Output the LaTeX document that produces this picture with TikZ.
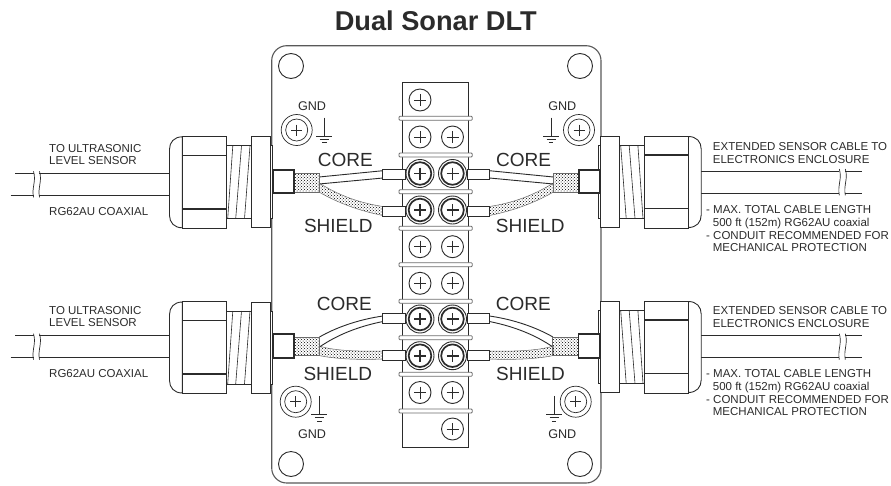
\documentclass[tikz,border=0pt]{standalone}
\usepackage{fontspec}
\setmainfont{Liberation Sans}
\usetikzlibrary{patterns}
\definecolor{InkGray}{HTML}{2b2b2b}
\definecolor{BarGray}{HTML}{6e6e6e}
\tikzset{
  % Text styles
  titletext/.style={anchor=base, inner sep=0pt, font=\fontsize{27.2}{32}\selectfont\bfseries, text=InkGray},
  cabletext/.style={anchor=north west, inner sep=0pt, align=left, text=InkGray, font=\fontsize{11.5}{12.9}\selectfont},
  wiretext/.style={anchor=base west, inner sep=0pt, text=InkGray, font=\fontsize{19}{21}\selectfont},
  gndtext/.style={anchor=base, inner sep=0pt, text=InkGray, font=\fontsize{12.6}{14}\selectfont},
  % Line styles
  outline/.style={draw=InkGray, line width=0.9pt},
  heavy/.style={draw=InkGray, line width=1.7pt},
  braid/.style={pattern=crosshatch dots, pattern color=black, draw=InkGray!70, line width=0.5pt},
  % Terminal screws
  pics/plainscrew/.style={code={
    \draw[outline, fill=white] (0,0) circle[radius=11];
    \draw[outline, line width=0.6pt] (-6,0) -- (6,0) (0,-6) -- (0,6);
  }},
  pics/boldscrew/.style={code={
    \draw[outline, fill=white] (0,0) circle[radius=14];
    \draw[heavy, fill=white] (0,0) circle[radius=11.3];
    \draw[heavy] (-6,0) -- (6,0) (0,-6) -- (0,6);
  }},
  pics/gndscrew/.style={code={
    \draw[outline, line width=0.7pt, fill=white] (0,0) circle[radius=15.5];
    \draw[outline, line width=0.7pt] (0,0) circle[radius=11];
    \draw[outline, line width=0.6pt] (-5.5,0) -- (5.5,0) (0,-5.5) -- (0,5.5);
  }},
  pics/earth/.style={code={
    \draw[outline, line width=0.7pt] (0,-18.5) -- (0,0) (-8,0) -- (8,0) (-4.5,3.3) -- (4.5,3.3) (-2.2,6.6) -- (2.2,6.6);
  }},
  % Cable gland, drawn outward from the plate
  pics/gland/.style={code={
    \draw[outline, fill=white] (-2.7,-36.5) rectangle (0,36.5);
    \draw[outline, fill=white] (0,-45.5) rectangle (18.3,45.5);
    \draw[outline, fill=white] (18.3,-36.5) rectangle (43.5,36.5);
    \draw[outline, line width=0.6pt] (20,-36.5) -- (25.5,36.5) (28.5,-36.5) -- (34.3,36.5) (37.2,-36.5) -- (42.3,36.5);
    \draw[outline, fill=white] (87.6,-45.5) .. controls (96,-45.5) and (100.5,-40) .. (100.5,-33)
      -- (100.5,33) .. controls (100.5,40) and (96,45.5) .. (87.6,45.5) -- cycle;
    \draw[outline, fill=white] (43.5,-46) rectangle (87.6,46);
    \draw[outline, line width=1.4pt] (43.5,-27) -- (87.6,-27) (43.5,26.5) -- (87.6,26.5);
  }},
  % Stripped coax, upper pair of terminals
  pics/wireupper/.style={code={
    \draw[braid] (319,183) .. controls (340,196) and (360,203) .. (383,206.5) -- (383,215.5) .. controls (360,211) and (338,203) .. (319,192) -- cycle;
    \draw[outline] (319,177) -- (383,170.7) (319,184) -- (383,178);
    \draw[braid] (293.7,173.3) rectangle (319.3,192.5);
    \draw[heavy, fill=white] (272.7,170.3) rectangle (293.7,193.3);
    \draw[outline, fill=white] (382.5,169.3) rectangle (405,179.3);
    \draw[outline, fill=white] (382.5,206) rectangle (405,216);
  }},
  % Stripped coax, lower pair of terminals
  pics/wirelower/.style={code={
    \draw[braid] (319,346) .. controls (335,351) and (360,351.5) .. (383,351) -- (383,359) .. controls (360,360) and (335,359) .. (319,355.5) -- cycle;
    \draw[outline] (319.5,337) .. controls (335,328) and (358,319.5) .. (383,316) (319.5,347) .. controls (337,335) and (358,326.5) .. (383,321.5);
    \draw[braid] (294,337.3) rectangle (319.7,355.7);
    \draw[heavy, fill=white] (272.7,334.3) rectangle (294,358.3);
    \draw[outline, fill=white] (382.5,313.3) rectangle (405,323.3);
    \draw[outline, fill=white] (382.5,350) rectangle (405,360);
  }}
}
\newcommand{\cablebreak}[3]{\draw[outline, line width=0.7pt] (#1,#2-2) .. controls (#1+3,#2+8) and (#1-2,#3-8) .. (#1,#3+2);}

\begin{document}
\begin{tikzpicture}[x=1pt, y=-1pt]
  \useasboundingbox (0,0) rectangle (891,485);

  \node[titletext] (title) at (435.8,30.7) {Dual Sonar DLT};

  % Mounting plate
  \draw[draw=black!65, line width=1.1pt, fill=white, rounded corners=15pt] (271.7,45.7) rectangle (601,483);
  \foreach \hx/\hy in {291/66, 580/66, 291/464, 580/464}
    \draw[outline] (\hx,\hy) circle[radius=12.5];

  % Cables and glands
  \foreach \ya/\yb in {173.3/195.3, 335.7/357.7} {
    \draw[outline] (39,\ya) -- (170,\ya) (39,\yb) -- (170,\yb);
    \draw[outline] (15,\ya) -- (33.5,\ya) (10.7,\yb) -- (33.5,\yb);
    \cablebreak{33.5}{\ya}{\yb}
    \cablebreak{39.5}{\ya}{\yb}
  }
  \foreach \ya/\yb in {171/193.3, 335.7/357.7} {
    \draw[outline] (701,\ya) -- (839.3,\ya) (701,\yb) -- (839.3,\yb);
    \draw[outline] (845,\ya) -- (862,\ya) (845,\yb) -- (862,\yb);
    \cablebreak{839.3}{\ya}{\yb}
    \cablebreak{845.3}{\ya}{\yb}
  }
  \pic[shift={(270,182.3)}, xscale=-1] {gland};
  \pic[shift={(270,347.5)}, xscale=-1] {gland};
  \pic[shift={(600.7,182)}] {gland};
  \pic[shift={(600.7,347)}] {gland};

  % Terminal block
  \draw[outline, fill=white] (402.7,82.3) rectangle (468.7,447.3);
  \foreach \by in {118.3, 155, 191.7, 228.3, 264.7, 301.3, 337.7, 374.3, 411}
    \draw[draw=BarGray, line width=0.8pt, fill=white, rounded corners=1pt] (399,\by-2) rectangle (472.3,\by+2);

  % Wires
  \pic {wireupper};
  \pic {wirelower};
  \pic[shift={(872.4,0)}, xscale=-1] {wireupper};
  \pic[shift={(872.4,0)}, xscale=-1] {wirelower};

  % Screws
  \pic at (420,100) {plainscrew};
  \pic at (452.5,429) {plainscrew};
  \foreach \sy in {137, 246.7, 283.3, 392.5} {
    \pic at (420,\sy) {plainscrew};
    \pic at (452.5,\sy) {plainscrew};
  }
  \foreach \sy in {173.5, 210, 319, 355.7} {
    \pic at (420,\sy) {boldscrew};
    \pic at (452.5,\sy) {boldscrew};
  }

  % Ground points
  \pic at (296.7,130) {gndscrew};
  \pic at (579,130) {gndscrew};
  \pic at (295.7,401.7) {gndscrew};
  \pic at (575.7,401.7) {gndscrew};
  \pic at (324.3,136.2) {earth};
  \pic at (551,136.2) {earth};
  \pic at (319.3,414.3) {earth};
  \pic at (554,414.3) {earth};
  \node[gndtext] (gndtl) at (312,110.7) {GND};
  \node[gndtext] (gndtr) at (562.3,110.7) {GND};
  \node[gndtext] (gndbl) at (312,438.3) {GND};
  \node[gndtext] (gndbr) at (562.3,438.3) {GND};

  % Wire labels
  \node[wiretext] (coretl) at (317.7,166.7) {CORE};
  \node[wiretext] (coretr) at (496,166.7) {CORE};
  \node[wiretext] (shieldtl) at (303.8,232.7) {SHIELD};
  \node[wiretext] (shieldtr) at (495.7,232.7) {SHIELD};
  \node[wiretext] (corebl) at (316.7,310.7) {CORE};
  \node[wiretext] (corebr) at (495.7,310.7) {CORE};
  \node[wiretext] (shieldbl) at (303.3,380.7) {SHIELD};
  \node[wiretext] (shieldbr) at (496,380.7) {SHIELD};

  % Cable labels
  \node[cabletext] (sensortop) at (49,143.8) {TO ULTRASONIC\\LEVEL SENSOR};
  \node[cabletext] (coaxtop) at (49,206.8) {RG62AU COAXIAL};
  \node[cabletext] (sensorbot) at (49,305.8) {TO ULTRASONIC\\LEVEL SENSOR};
  \node[cabletext] (coaxbot) at (49,368.8) {RG62AU COAXIAL};
  \node[cabletext] (exttop) at (712.7,142.5) {EXTENDED SENSOR CABLE TO\\ELECTRONICS ENCLOSURE};
  \node[cabletext] (notetop) at (706,205) {- MAX. TOTAL CABLE LENGTH\\\hspace*{6.7pt}500 ft (152m) RG62AU coaxial\\- CONDUIT RECOMMENDED FOR\\\hspace*{6.7pt}MECHANICAL PROTECTION};
  \node[cabletext] (extbot) at (712.7,306) {EXTENDED SENSOR CABLE TO\\ELECTRONICS ENCLOSURE};
  \node[cabletext] (notebot) at (706,369) {- MAX. TOTAL CABLE LENGTH\\\hspace*{6.7pt}500 ft (152m) RG62AU coaxial\\- CONDUIT RECOMMENDED FOR\\\hspace*{6.7pt}MECHANICAL PROTECTION};
\end{tikzpicture}
\end{document}
